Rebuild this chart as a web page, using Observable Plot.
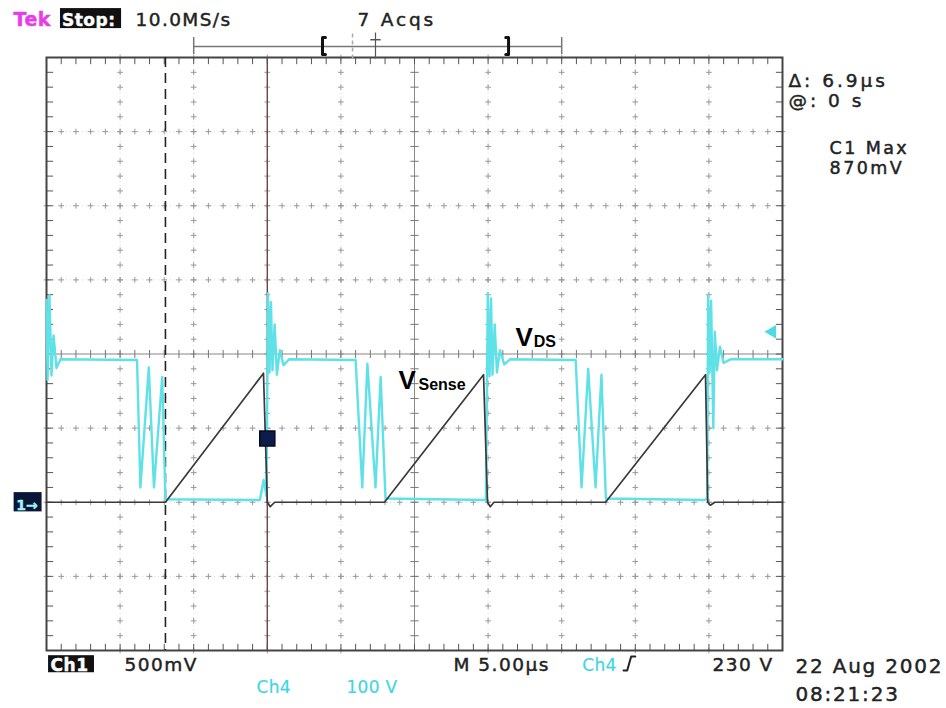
<!DOCTYPE html>
<html><head><meta charset="utf-8">
<script src="https://cdn.jsdelivr.net/npm/d3@7"></script>
<script src="https://cdn.jsdelivr.net/npm/@observablehq/plot@0.6"></script>
<style>body{margin:0;background:#fff}svg{display:block}</style>
</head><body><div id="chart"></div>
<script>
// ---- screen geometry: 5 µs/div × 10 div, 8 vertical divisions ----
const timeDomain = [0, 50];          // µs
const divDomain = [-4, 4];           // screen divisions
const majorTime = [0, 5, 10, 15, 20, 25, 30, 35, 40, 45, 50];
const majorDiv = [-4, -3, -2, -1, 0, 1, 2, 3, 4];
const minorTime = d3.range(0, 50.001, 1);       // 1/5 division
const minorDiv = d3.range(-4, 4.001, 0.2);

// ---- Ch1: V_Sense, 500 mV/div, ground at -2 div ----
const ch1VoltsPerDiv = 0.5, ch1GroundDiv = -2;
const ch1Time  = [0, 8.08, 14.74, 15.0, 15.2, 15.5, 22.96, 29.69, 29.96, 30.15, 30.4, 37.98, 44.77, 44.92, 45.1, 45.4, 50];
const ch1Volts = [0, 0,    0.87,  0,    -0.03, 0,   0,     0.86,  0,     -0.03, 0,    0,     0.86,  0,     -0.02, 0,   0];

// ---- Ch4: V_DS, 100 V/div, ground at -2 div ----
const ch4VoltsPerDiv = 100, ch4GroundDiv = -2;
const ch4Time  = [0, 0.07, 0.2, 0.34, 0.48, 0.68, 0.95, 6.15, 6.38, 6.95, 7.3, 7.86, 8.08, 14.5, 14.75, 14.95, 15.05, 15.15, 15.25, 15.35, 15.5, 15.65, 15.85, 16.1, 16.5,
                  21.0, 21.45, 21.8, 22.35, 22.7, 23.03, 29.85, 29.98, 30.1, 30.2, 30.3, 30.45, 30.6, 30.8, 31.1, 31.5,
                  35.95, 36.35, 36.8, 37.3, 37.7, 38.0, 44.7, 44.88, 44.95, 45.05, 45.15, 45.3, 45.4, 45.55, 45.75, 46.0, 46.5, 50];
const ch4Volts = [273, 165, 279, 171, 225, 181, 193, 192, 20, 182, 20, 169, 4, 3, 30, 8, 282, 175, 270, 178, 240, 172, 205, 185, 193,
                  192, 20, 187, 20, 169, 5, 3, 282, 170, 275, 172, 240, 175, 205, 186, 193,
                  192, 20, 180, 20, 172, 5, 3, 5, 280, 175, 272, 100, 230, 178, 210, 188, 193, 193];

// ---- cursors, trigger ----
const cursorDashed = 8.08, cursorSolid = 15.0;   // Δ 6.9 µs
const triggerVolts = 230;                        // Ch4 rising, 230 V

const ch1 = ch1Time.map((t, i) => ({t, d: ch1GroundDiv + ch1Volts[i] / ch1VoltsPerDiv}));
const ch4 = ch4Time.map((t, i) => ({t, d: ch4GroundDiv + ch4Volts[i] / ch4VoltsPerDiv}));

const gridPts = [
  ...majorTime.filter(t => t !== 25 && t !== 0 && t !== 50).flatMap(t => minorDiv.map(d => ({t, d}))),
  ...majorDiv.filter(d => d !== 0 && d !== 4 && d !== -4).flatMap(d => minorTime.map(t => ({t, d})))
];

const FONT = "DejaVu Sans";
// ariaDescription encodes the letter-spacing applied after rendering
const txt = (items, o = {}) => Plot.text(items, {x: "t", y: "d", text: "s", textAnchor: "start", lineAnchor: "bottom",
  fontFamily: FONT, fontSize: 18.5, fill: "#222", stroke: o.fill || "#222", strokeWidth: 0.45, ariaDescription: "ls-1.7", ...o});

const chart = Plot.plot({
  width: 946, height: 708,
  marginLeft: 46, marginRight: 164, marginTop: 57, marginBottom: 58,
  x: {domain: timeDomain, axis: null},
  y: {domain: divDomain, axis: null},
  style: {background: "#fff", overflow: "visible"},
  marks: [
    // grid
    Plot.ruleX(majorTime.slice(1, -1), {stroke: "#dcdcdc", strokeWidth: 1, strokeDasharray: "1,3"}),
    Plot.ruleY(majorDiv.slice(1, -1), {stroke: "#dcdcdc", strokeWidth: 1, strokeDasharray: "1,3"}),
    Plot.dot(gridPts, {x: "t", y: "d", symbol: "plus", r: 2, stroke: "#9a9a9a", strokeWidth: 1}),
    // centre axes with ticks
    Plot.ruleX([25], {stroke: "#8a8a8a", strokeWidth: 1}),
    Plot.ruleY([0], {stroke: "#8a8a8a", strokeWidth: 1}),
    Plot.link(minorTime, {x1: d => d, x2: d => d, y1: -0.055, y2: 0.055, stroke: "#777"}),
    Plot.link(minorDiv, {y1: d => d, y2: d => d, x1: 24.72, x2: 25.28, stroke: "#777"}),
    // frame ticks
    Plot.link(minorTime, {x1: d => d, x2: d => d, y1: 4, y2: 3.91, stroke: "#555"}),
    Plot.link(minorTime, {x1: d => d, x2: d => d, y1: -4, y2: -3.91, stroke: "#555"}),
    Plot.link(minorDiv, {y1: d => d, y2: d => d, x1: 0, x2: 0.45, stroke: "#555"}),
    Plot.link(minorDiv, {y1: d => d, y2: d => d, x1: 50, x2: 49.55, stroke: "#555"}),
    Plot.frame({stroke: "#444", strokeWidth: 2}),
    // cursors
    Plot.ruleX([cursorDashed], {stroke: "#222", strokeWidth: 1.6, strokeDasharray: "10,6"}),
    Plot.ruleX([cursorSolid], {stroke: "#6a4848", strokeWidth: 1.4}),
    // traces
    Plot.line(ch4, {x: "t", y: "d", stroke: "#5fe1e8", strokeWidth: 2.4, curve: "linear"}),
    Plot.line(ch1, {x: "t", y: "d", stroke: "#3a3a3a", strokeWidth: 1.7, curve: "linear"}),
    // cursor readout marker & trigger level arrow
    Plot.dot([{t: cursorSolid, d: -1.14}], {x: "t", y: "d", symbol: "square", r: 8.5, fill: "#0e1c4c", stroke: "#050a20"}),
    Plot.dot([{t: 49.3, d: ch4GroundDiv + triggerVolts / ch4VoltsPerDiv}], {x: "t", y: "d", symbol: "triangle", rotate: -90, r: 5, fill: "#4fd9e2"}),
    // ground marker 1→
    Plot.rect([{x1: -2.2, x2: -0.3, y1: -2.13, y2: -1.87}], {x1: "x1", x2: "x2", y1: "y1", y2: "y2", fill: "#0a1638"}),
    txt([{t: -2.05, d: -2.11, s: "1→"}], {fill: "#9ff4f8", fontSize: 14, fontWeight: "bold", ariaDescription: "ls-0"}),
    // header
    txt([{t: -2.24, d: 4.43, s: "Tek"}], {fill: "#e83ce8", fontWeight: "bold", fontSize: 19, ariaDescription: "ls-0.5"}),
    Plot.rect([{x1: 0.95, x2: 5.1, y1: 4.39, y2: 4.66}], {x1: "x1", x2: "x2", y1: "y1", y2: "y2", fill: "#111"}),
    txt([{t: 1.05, d: 4.43, s: "Stop:"}], {fill: "#fff", fontWeight: "bold", fontSize: 17, ariaDescription: "ls-0.5"}),
    txt([{t: 6.05, d: 4.43, s: "10.0MS/s"}], {ariaDescription: "ls-1.4"}),
    txt([{t: 21.13, d: 4.43, s: "7 Acqs"}], {ariaDescription: "ls-2.8"}),
    // record view bar
    Plot.link([{a: 10, b: 35}], {x1: "a", x2: "b", y1: 4.15, y2: 4.15, stroke: "#777", strokeWidth: 1.5}),
    Plot.ruleX([10, 35], {y1: 4.04, y2: 4.27, stroke: "#777", strokeWidth: 1.5}),
    Plot.line([{t: 18.95, d: 4.27, k: 1}, {t: 18.75, d: 4.27, k: 1}, {t: 18.75, d: 4.04, k: 1}, {t: 18.95, d: 4.04, k: 1},
               {t: 31.2, d: 4.27, k: 2}, {t: 31.39, d: 4.27, k: 2}, {t: 31.39, d: 4.04, k: 2}, {t: 31.2, d: 4.04, k: 2}],
      {x: "t", y: "d", z: "k", stroke: "#111", strokeWidth: 3}),
    Plot.ruleX([20.79], {y1: 3.98, y2: 4.33, stroke: "#aaa", strokeWidth: 1.5, strokeDasharray: "4,3"}),
    Plot.link([{a: 22.0, b: 22.7}], {x1: "a", x2: "b", y1: 4.24, y2: 4.24, stroke: "#555", strokeWidth: 1.5}),
    Plot.ruleX([22.35], {y1: 3.98, y2: 4.33, stroke: "#555", strokeWidth: 1.2}),
    // right readouts
    txt([{t: 50.4, d: 3.6, s: "Δ: 6.9µs"}, {t: 50.4, d: 3.33, s: "@: 0 s"}], {ariaDescription: "ls-3"}),
    txt([{t: 53.2, d: 2.7, s: "C1 Max"}, {t: 53.2, d: 2.43, s: "870mV"}], {fontSize: 17.5, ariaDescription: "ls-2.4"}),
    // footer
    Plot.rect([{x1: 0.14, x2: 3.26, y1: -4.07, y2: -4.3}], {x1: "x1", x2: "x2", y1: "y1", y2: "y2", fill: "#111"}),
    txt([{t: 0.28, d: -4.28, s: "Ch1"}], {fill: "#fff", fontWeight: "bold", fontSize: 17, ariaDescription: "ls-0.5"}),
    txt([{t: 5.3, d: -4.28, s: "500mV"}, {t: 27.65, d: -4.28, s: "M 5.00µs"}, {t: 45.24, d: -4.28, s: "230 V"}], {ariaDescription: "ls-1.5"}),
    txt([{t: 36.4, d: -4.28, s: "Ch4"}, {t: 14.27, d: -4.58, s: "Ch4"}, {t: 20.38, d: -4.58, s: "100 V"}], {fill: "#3fd6e0", fontSize: 17, strokeWidth: 0.2, ariaDescription: "ls-0.3"}),
    Plot.line([{t: 39.2, d: -4.27}, {t: 39.45, d: -4.27}, {t: 39.72, d: -4.08}, {t: 40.0, d: -4.08}], {x: "t", y: "d", stroke: "#222", strokeWidth: 2}),
    txt([{t: 50.88, d: -4.31, s: "22 Aug 2002"}, {t: 50.88, d: -4.68, s: "08:21:23"}], {fontSize: 20, ariaDescription: "ls-1.8"}),
    // signal labels
    txt([{t: 31.86, d: 0.11, s: "V"}, {t: 23.91, d: -0.47, s: "V"}], {fontFamily: "Liberation Sans", fontWeight: "bold", fontSize: 26, fill: "#000", strokeWidth: 0, ariaDescription: "ls-0"}),
    txt([{t: 33.1, d: 0.09, s: "DS"}, {t: 25.27, d: -0.49, s: "Sense"}], {fontFamily: "Liberation Sans", fontWeight: "bold", fontSize: 16, fill: "#000", strokeWidth: 0, ariaDescription: "ls-0"})
  ]
});
chart.querySelectorAll('g[aria-description^="ls-"]').forEach(g => {
  g.setAttribute("letter-spacing", g.getAttribute("aria-description").slice(3) + "px");
});
document.getElementById("chart").append(chart);
</script>
</body></html>
